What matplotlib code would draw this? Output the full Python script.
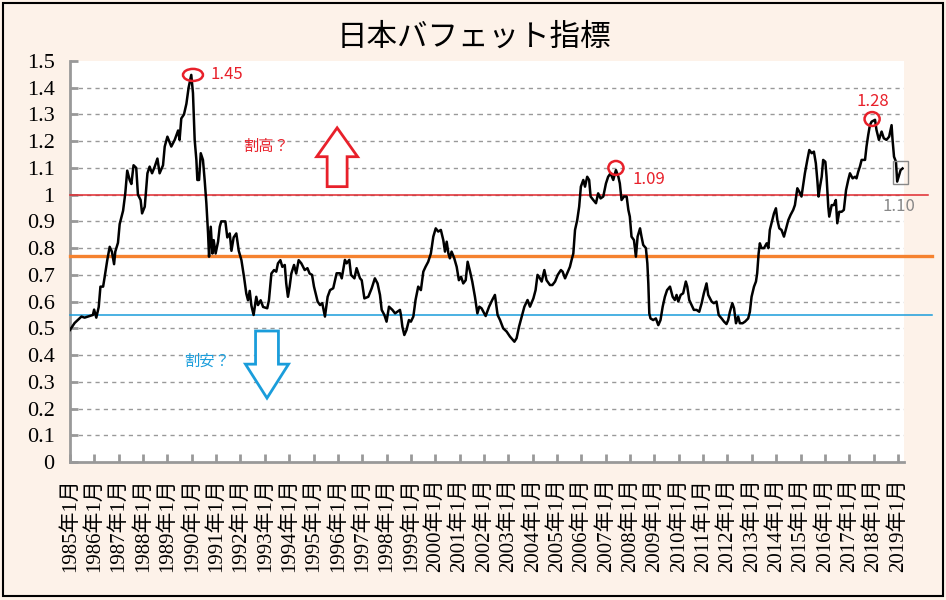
import matplotlib
matplotlib.use("Agg")
import matplotlib.pyplot as plt
from matplotlib.patches import Ellipse, Rectangle, FancyArrow

plt.rcParams['font.family'] = ['Noto Sans CJK JP', 'DejaVu Sans']

# 日本バフェット指標 (時価総額 / GDP), 年は小数表示
years = [
    1985.00, 1985.19, 1985.47, 1985.60, 1985.94, 1985.99, 1986.08, 1986.18, 1986.25, 1986.36,
    1986.42, 1986.53, 1986.63, 1986.72, 1986.81, 1986.86, 1986.97, 1987.04, 1987.18, 1987.27,
    1987.35, 1987.45, 1987.52, 1987.61, 1987.72, 1987.79, 1987.90, 1987.96, 1988.07, 1988.18,
    1988.27, 1988.37, 1988.48, 1988.59, 1988.68, 1988.82, 1988.89, 1989.00, 1989.16, 1989.30,
    1989.44, 1989.50, 1989.57, 1989.68, 1989.78, 1989.87, 1989.98, 1990.05, 1990.12, 1990.19,
    1990.23, 1990.30, 1990.37, 1990.46, 1990.53, 1990.60, 1990.67, 1990.71, 1990.78, 1990.85,
    1990.90, 1990.98, 1991.08, 1991.15, 1991.21, 1991.38, 1991.46, 1991.56, 1991.63, 1991.72,
    1991.83, 1991.93, 1992.04, 1992.15, 1992.24, 1992.31, 1992.38, 1992.45, 1992.54, 1992.65,
    1992.72, 1992.83, 1992.93, 1993.10, 1993.17, 1993.27, 1993.38, 1993.47, 1993.54, 1993.64,
    1993.72, 1993.82, 1993.88, 1993.95, 1994.02, 1994.09, 1994.20, 1994.29, 1994.39, 1994.50,
    1994.64, 1994.75, 1994.84, 1994.94, 1995.02, 1995.12, 1995.17, 1995.27, 1995.36, 1995.47,
    1995.58, 1995.68, 1995.81, 1995.95, 1996.09, 1996.16, 1996.29, 1996.36, 1996.47, 1996.54,
    1996.68, 1996.77, 1996.91, 1996.98, 1997.09, 1997.25, 1997.39, 1997.52, 1997.63, 1997.73,
    1997.80, 1997.91, 1998.00, 1998.10, 1998.24, 1998.35, 1998.55, 1998.59, 1998.65, 1998.73,
    1998.82, 1998.92, 1999.00, 1999.10, 1999.19, 1999.30, 1999.41, 1999.51, 1999.60, 1999.71,
    1999.82, 1999.92, 2000.02, 2000.12, 2000.23, 2000.33, 2000.40, 2000.47, 2000.54, 2000.60,
    2000.67, 2000.78, 2000.88, 2000.97, 2001.06, 2001.15, 2001.25, 2001.33, 2001.43, 2001.52,
    2001.63, 2001.73, 2001.81, 2001.90, 2002.07, 2002.21, 2002.34, 2002.45, 2002.56, 2002.66,
    2002.79, 2002.93, 2003.07, 2003.25, 2003.34, 2003.44, 2003.55, 2003.66, 2003.79, 2003.89,
    2004.03, 2004.12, 2004.20, 2004.30, 2004.37, 2004.48, 2004.57, 2004.71, 2004.81, 2004.92,
    2005.03, 2005.16, 2005.23, 2005.33, 2005.42, 2005.53, 2005.60, 2005.67, 2005.74, 2005.83,
    2005.91, 2005.98, 2006.08, 2006.15, 2006.24, 2006.32, 2006.38, 2006.49, 2006.60, 2006.69,
    2006.79, 2006.90, 2007.01, 2007.10, 2007.20, 2007.31, 2007.42, 2007.52, 2007.58, 2007.65,
    2007.75, 2007.86, 2007.93, 2007.99, 2008.06, 2008.16, 2008.24, 2008.31, 2008.41, 2008.47,
    2008.54, 2008.65, 2008.71, 2008.75, 2008.79, 2008.84, 2008.95, 2009.06, 2009.16, 2009.25,
    2009.34, 2009.43, 2009.52, 2009.64, 2009.75, 2009.84, 2009.91, 2009.98, 2010.08, 2010.18,
    2010.29, 2010.35, 2010.43, 2010.53, 2010.62, 2010.73, 2010.84, 2010.94, 2011.03, 2011.14,
    2011.21, 2011.35, 2011.44, 2011.55, 2011.64, 2011.76, 2011.86, 2011.96, 2012.03, 2012.10,
    2012.20, 2012.27, 2012.35, 2012.44, 2012.51, 2012.62, 2012.72, 2012.85, 2012.92, 2012.99,
    2013.09, 2013.17, 2013.22, 2013.28, 2013.33, 2013.40, 2013.50, 2013.61, 2013.68, 2013.74,
    2013.84, 2013.91, 2013.99, 2014.05, 2014.13, 2014.22, 2014.32, 2014.43, 2014.50, 2014.59,
    2014.70, 2014.77, 2014.87, 2014.95, 2015.04, 2015.11, 2015.18, 2015.28, 2015.36, 2015.46,
    2015.55, 2015.63, 2015.69, 2015.74, 2015.80, 2015.87, 2015.93, 2016.02, 2016.07, 2016.14,
    2016.18, 2016.28, 2016.37, 2016.45, 2016.51, 2016.59, 2016.69, 2016.78, 2016.87, 2016.96,
    2017.03, 2017.14, 2017.24, 2017.30, 2017.37, 2017.44, 2017.51, 2017.65, 2017.71, 2017.78,
    2017.85, 2017.92, 2018.06, 2018.12, 2018.22, 2018.33, 2018.42, 2018.53, 2018.64, 2018.74,
    2018.78, 2018.84, 2018.92, 2018.97, 2019.03, 2019.11, 2019.19,
]
ratio = [
    0.494, 0.520, 0.544, 0.540, 0.550, 0.570, 0.540, 0.580, 0.656, 0.656,
    0.690, 0.755, 0.805, 0.787, 0.740, 0.787, 0.820, 0.890, 0.940, 1.005,
    1.090, 1.055, 1.040, 1.110, 1.100, 1.000, 0.980, 0.930, 0.955, 1.080,
    1.105, 1.080, 1.105, 1.135, 1.080, 1.110, 1.180, 1.217, 1.180, 1.205,
    1.240, 1.205, 1.285, 1.300, 1.340, 1.400, 1.448, 1.380, 1.205, 1.130,
    1.055, 1.055, 1.155, 1.130, 1.055, 0.968, 0.855, 0.768, 0.880, 0.780,
    0.830, 0.780, 0.824, 0.880, 0.900, 0.900, 0.840, 0.855, 0.790, 0.840,
    0.855, 0.790, 0.755, 0.690, 0.630, 0.605, 0.640, 0.585, 0.550, 0.618,
    0.587, 0.605, 0.580, 0.575, 0.605, 0.705, 0.718, 0.712, 0.743, 0.755,
    0.730, 0.737, 0.668, 0.618, 0.656, 0.705, 0.737, 0.705, 0.755, 0.743,
    0.718, 0.725, 0.705, 0.700, 0.656, 0.618, 0.600, 0.587, 0.594, 0.544,
    0.618, 0.643, 0.650, 0.706, 0.706, 0.687, 0.756, 0.743, 0.756, 0.700,
    0.687, 0.725, 0.687, 0.680, 0.612, 0.618, 0.650, 0.687, 0.668, 0.625,
    0.569, 0.550, 0.525, 0.581, 0.569, 0.556, 0.569, 0.550, 0.506, 0.475,
    0.494, 0.531, 0.525, 0.544, 0.606, 0.656, 0.643, 0.712, 0.730, 0.749,
    0.780, 0.843, 0.874, 0.862, 0.868, 0.830, 0.787, 0.824, 0.780, 0.762,
    0.787, 0.762, 0.730, 0.680, 0.693, 0.668, 0.680, 0.749, 0.712, 0.675,
    0.618, 0.556, 0.581, 0.575, 0.546, 0.581, 0.606, 0.625, 0.550, 0.531,
    0.500, 0.488, 0.469, 0.450, 0.463, 0.506, 0.544, 0.581, 0.606, 0.581,
    0.612, 0.643, 0.700, 0.687, 0.675, 0.718, 0.680, 0.662, 0.662, 0.675,
    0.700, 0.718, 0.712, 0.687, 0.706, 0.730, 0.756, 0.780, 0.868, 0.905,
    0.955, 1.030, 1.055, 1.030, 1.067, 1.055, 0.993, 0.980, 0.968, 1.005,
    0.986, 0.993, 1.042, 1.067, 1.080, 1.055, 1.092, 1.067, 1.042, 0.980,
    0.993, 0.993, 0.943, 0.918, 0.843, 0.830, 0.768, 0.843, 0.874, 0.843,
    0.812, 0.800, 0.743, 0.668, 0.556, 0.537, 0.531, 0.537, 0.512, 0.531,
    0.581, 0.618, 0.643, 0.656, 0.618, 0.606, 0.625, 0.600, 0.625, 0.631,
    0.675, 0.656, 0.606, 0.587, 0.569, 0.569, 0.562, 0.594, 0.631, 0.668,
    0.625, 0.600, 0.594, 0.600, 0.550, 0.537, 0.525, 0.516, 0.531, 0.562,
    0.594, 0.575, 0.519, 0.544, 0.519, 0.519, 0.525, 0.537, 0.562, 0.618,
    0.656, 0.675, 0.706, 0.780, 0.818, 0.800, 0.800, 0.818, 0.800, 0.868,
    0.905, 0.930, 0.949, 0.905, 0.874, 0.868, 0.843, 0.880, 0.905, 0.924,
    0.943, 0.961, 1.024, 1.011, 0.993, 1.036, 1.080, 1.130, 1.167, 1.155,
    1.161, 1.117, 1.055, 0.993, 1.030, 1.067, 1.130, 1.123, 1.067, 0.955,
    0.918, 0.961, 0.961, 0.980, 0.893, 0.936, 0.936, 0.943, 1.017, 1.055,
    1.080, 1.061, 1.067, 1.061, 1.086, 1.105, 1.130, 1.130, 1.180, 1.223,
    1.260, 1.273, 1.280, 1.242, 1.205, 1.236, 1.211, 1.205, 1.217, 1.260,
    1.205, 1.142, 1.123, 1.049, 1.067, 1.092, 1.098,
]

yticks = [0, 0.1, 0.2, 0.3, 0.4, 0.5, 0.6, 0.7, 0.8, 0.9, 1.0, 1.1, 1.2, 1.3, 1.4, 1.5]
ytick_labels = ['0', '0.1', '0.2', '0.3', '0.4', '0.5', '0.6', '0.7', '0.8', '0.9',
                '1', '1.1', '1.2', '1.3', '1.4', '1.5']
xtick_years = list(range(1985, 2020))
xtick_labels = [f'{y}年1月' for y in xtick_years]

high_level = 1.0    # 割高ライン
mean_level = 0.77   # 平均
low_level = 0.55    # 割安ライン

peak_x = [1990.05, 2007.42, 2017.94]
peak_y = [1.448, 1.10, 1.283]
peak_w = [0.82, 0.62, 0.62]
peak_h = [0.045, 0.052, 0.052]
peak_text = ['1.45', '1.09', '1.28']
last_text = '1.10'

red = '#E8202A'
blue = '#1A9DDB'
orange = '#F5822F'
gray = '#999999'

fig = plt.figure(figsize=(9.46, 6.0), dpi=100)
fig.patch.set_facecolor('#FDF2E9')
ax = fig.add_axes([70/946, 138/600, 834/946, 401/600])
ax.set_facecolor('white')

ax.plot(years, ratio, color='black', lw=1.8, zorder=4)

ax.set_xlim(1985, 2019.25)
ax.set_ylim(0, 1.5)

# grid (no line at 1.5)
for v in yticks[1:-1]:
    ax.axhline(v, color=gray, lw=1, ls=(0, (3, 3)), zorder=1)

ax.axhline(high_level, xmax=1.029, color='#E0282E', lw=1.1, clip_on=False, zorder=3)
ax.axhline(mean_level, xmax=1.034, color=orange, lw=2.4, clip_on=False, zorder=3)
ax.axhline(low_level, xmax=1.034, color=blue, lw=1.1, clip_on=False, zorder=3)

for s in ['top', 'right']:
    ax.spines[s].set_visible(False)
for s in ['left', 'bottom']:
    ax.spines[s].set_color(gray)
    ax.spines[s].set_linewidth(2)

ax.set_yticks(yticks, ytick_labels, family='Liberation Serif', fontsize=16)
ax.set_xticks(xtick_years, xtick_labels, family=['Liberation Serif', 'Noto Sans CJK JP'],
              fontsize=15, rotation=90, ha='center', va='top')
ax.tick_params(axis='both', direction='in', length=6, width=2, color=gray)
ax.tick_params(axis='y', pad=11)
ax.tick_params(axis='x', pad=12)

# peaks
for px, py, pw, ph in zip(peak_x, peak_y, peak_w, peak_h):
    ax.add_patch(Ellipse((px, py), pw, ph, fill=False, ec=red, lw=1.8, zorder=5))
ax.text(1990.75, 1.448, peak_text[0], color=red, fontsize=12, ha='left', va='center', zorder=6)
ax.text(2008.12, 1.055, peak_text[1], color=red, fontsize=12, ha='left', va='center', zorder=6)
ax.text(2017.28, 1.35, peak_text[2], color=red, fontsize=12, ha='left', va='center', zorder=6)

# latest value
ax.add_patch(Rectangle((2018.80, 1.04), 0.62, 0.086, fill=False, ec='#888888', lw=1,
                       clip_on=False, zorder=5))
ax.text(2018.35, 0.954, last_text, color='#888888', fontsize=12, ha='left', va='center',
        clip_on=False, zorder=6)

# 割高 / 割安
ax.text(1993.05, 1.182, '割高？', color=red, fontsize=11, ha='center', va='center', zorder=6)
ax.add_patch(FancyArrow(1995.97, 1.03, 0, 0.22, width=0.82, head_width=1.68, head_length=0.108,
                        length_includes_head=True, fc='white', ec=red, lw=2, zorder=5))
ax.text(1990.63, 0.378, '割安？', color=blue, fontsize=11, ha='center', va='center', zorder=6)
ax.add_patch(FancyArrow(1993.09, 0.49, 0, -0.251, width=0.94, head_width=1.77, head_length=0.127,
                        length_includes_head=True, fc='white', ec=blue, lw=2, zorder=5))

fig.text(474/946, 1 - 37/600, '日本バフェット指標', ha='center', va='center', fontsize=22,
         color='black')

fig.add_artist(Rectangle((3/946, 4/600), 940/946, 593/600, transform=fig.transFigure,
                         fill=False, ec='black', lw=1.5))

fig.savefig('out.png', dpi=100, facecolor=fig.get_facecolor())
